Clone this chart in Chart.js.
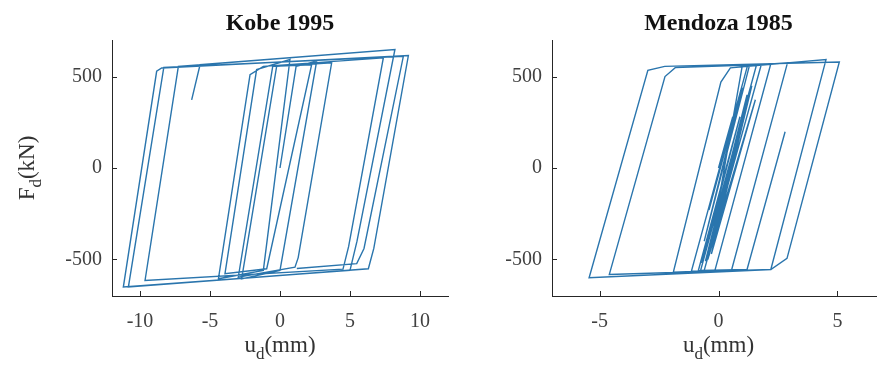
<!DOCTYPE html>
<html lang="en">
<head>
<meta charset="UTF-8" />
<title>Kobe 1995 / Mendoza 1985</title>
<script src="https://cdn.jsdelivr.net/npm/chart.js"></script>
<style>
  html, body { margin: 0; padding: 0; background: #fff; overflow: hidden; width: 877px; height: 376px; }
  .box { position: absolute; top: 0; height: 376px; }
  #kobeBox { left: 0; width: 460px; }
  #mendozaBox { left: 460px; width: 440px; }
</style>
</head>
<body>
<div id="kobeBox" class="box"><canvas id="kobe"></canvas></div>
<div id="mendozaBox" class="box"><canvas id="mendoza"></canvas></div>
<script>
// u_d (mm) and F_d (kN) vertices of each loop
const kobeX = [0, 1.15, 2.62, 0, -2.74, -0.24, 3.69, 1.3, 1.07, -2.98, -0.52, 2.26, -0.95, -3.93, -1.67, 0.71,
  -1.19, -4.4, -2.14, -1.19, 7.38, 4.9, 4.5, -9.64, -7.26, -5.71, -6.31, -5.71, 8.21, 5.5, 5.0, -11.19,
  -8.81, -8.45, 9.17, 6.7, 6.31, -10.83, -8.3, 8.81, 6.0, 5.48, 1.2];
const kobeY = [0, 556, 584, -560, -606, 556, 575, -490, -542, -597, 556, 565, -551, -578, 538, 593,
  -560, -606, 511, 556, 602, -430, -553, -615, 556, 565, 373, 565, 648, -400, -560, -651,
  529, 547, 615, -440, -551, -651, 550, 611, -440, -523, -550];

const mendozaX = [0, 0.6, -0.4, 1.0, -0.6, 1.3, 1.8, -0.6, -0.85, 0.9, -0.7, 1.35, -0.45, 1.55, -0.3, 1.4,
  -0.55, 1.2, -0.4, 1.0, 2.2, -0.15, -1.14, 1.22, 2.9, 0.55, -1.9, 0.1, 0.5, 4.52, 2.2, -5.44,
  -2.97, -2.26, 5.08, 2.88, 2.2, -4.59, -2.25, -1.82, 1.6, -0.75, 1.2, 2.8];
const mendozaY = [0, 280, -230, 440, -400, 560, 566, -560, -562, 280, -520, 430, -500, 373, -470, 450,
  -510, 400, -480, 560, 570, -560, -565, 560, 575, -558, -570, 470, 548, 593, -555, -600,
  534, 556, 580, -494, -555, -582, 500, 549, 565, -560, -555, 198];

const kobeTicks = [-10, -5, 0, 5, 10];
const mendozaTicks = [-5, 0, 5];
const forceTicks = [-500, 0, 500];

const serif = '"Liberation Serif", "Times New Roman", serif';
const lineColor = '#2a75ad';
const axisColor = '#262626';

function toPoints(xs, ys) {
  return xs.map((x, i) => ({ x: x, y: ys[i] }));
}

// text with a subscript: main + sub + rest, centred on x, baseline y
function drawSub(ctx, main, sub, rest, x, y, size) {
  ctx.font = size + 'px ' + serif;
  const w1 = ctx.measureText(main).width;
  const w3 = ctx.measureText(rest).width;
  ctx.font = Math.round(size * 0.72) + 'px ' + serif;
  const w2 = ctx.measureText(sub).width;
  let s = x - (w1 + w2 + w3) / 2;
  ctx.textAlign = 'left';
  ctx.textBaseline = 'alphabetic';
  ctx.font = size + 'px ' + serif;
  ctx.fillText(main, s, y);
  ctx.font = Math.round(size * 0.72) + 'px ' + serif;
  ctx.fillText(sub, s + w1, y + size * 0.3);
  ctx.font = size + 'px ' + serif;
  ctx.fillText(rest, s + w1 + w2, y);
}

const decor = {
  id: 'decor',
  afterDraw(chart, args, opts) {
    const ctx = chart.ctx;
    const a = chart.chartArea;
    const xs = chart.scales.x, ys = chart.scales.y;
    ctx.save();
    // inward tick marks
    ctx.strokeStyle = axisColor;
    ctx.lineWidth = 1;
    ctx.beginPath();
    xs.ticks.forEach(t => {
      const px = Math.round(xs.getPixelForValue(t.value)) + 0.5;
      ctx.moveTo(px, a.bottom);
      ctx.lineTo(px, a.bottom - 5);
    });
    ys.ticks.forEach(t => {
      const py = Math.round(ys.getPixelForValue(t.value)) + 0.5;
      ctx.moveTo(a.left, py);
      ctx.lineTo(a.left + 5, py);
    });
    ctx.stroke();
    // title
    ctx.fillStyle = '#111';
    ctx.font = 'bold 24px ' + serif;
    ctx.textAlign = 'center';
    ctx.textBaseline = 'alphabetic';
    ctx.fillText(opts.title, (a.left + a.right) / 2, 30);
    // axis labels
    ctx.fillStyle = '#333';
    drawSub(ctx, 'u', 'd', '(mm)', xs.getPixelForValue(0), 352, 23);
    if (opts.yLabel) {
      ctx.translate(34, (a.top + a.bottom) / 2);
      ctx.rotate(-Math.PI / 2);
      drawSub(ctx, 'F', 'd', '(kN)', 0, 0, 23);
    }
    ctx.restore();
  }
};

function makeChart(id, xs, ys, xTicks, xMin, xMax, yWidth, rightPad, title, yLabel) {
  const tickFont = { family: serif, size: 20 };
  return new Chart(document.getElementById(id), {
    type: 'scatter',
    data: {
      datasets: [{
        data: toPoints(xs, ys),
        showLine: true,
        borderColor: lineColor,
        borderWidth: 1.4,
        pointRadius: 0,
        tension: 0
      }]
    },
    options: {
      responsive: true,
      maintainAspectRatio: false,
      animation: false,
      layout: { padding: { top: 40, right: rightPad, left: 0, bottom: 0 } },
      plugins: {
        legend: { display: false },
        tooltip: { enabled: false },
        decor: { title: title, yLabel: yLabel }
      },
      scales: {
        x: {
          type: 'linear',
          min: xMin,
          max: xMax,
          afterBuildTicks: s => { s.ticks = xTicks.map(v => ({ value: v })); },
          afterFit: s => { s.height = 80; },
          grid: { display: false, drawTicks: false },
          border: { display: true, color: axisColor, width: 1 },
          ticks: { font: tickFont, color: '#404040', padding: 14, maxRotation: 0 }
        },
        y: {
          type: 'linear',
          min: -700,
          max: 700,
          afterBuildTicks: s => { s.ticks = forceTicks.map(v => ({ value: v })); },
          afterFit: s => { s.width = yWidth; },
          grid: { display: false, drawTicks: false },
          border: { display: true, color: axisColor, width: 1 },
          ticks: { font: tickFont, color: '#404040', padding: 10 }
        }
      }
    },
    plugins: [decor]
  });
}

makeChart('kobe', kobeX, kobeY, kobeTicks, -12, 12, 112, 12, 'Kobe 1995', true);
makeChart('mendoza', mendozaX, mendozaY, mendozaTicks, -7, 7, 92, 15, 'Mendoza 1985', false);
</script>
</body>
</html>
